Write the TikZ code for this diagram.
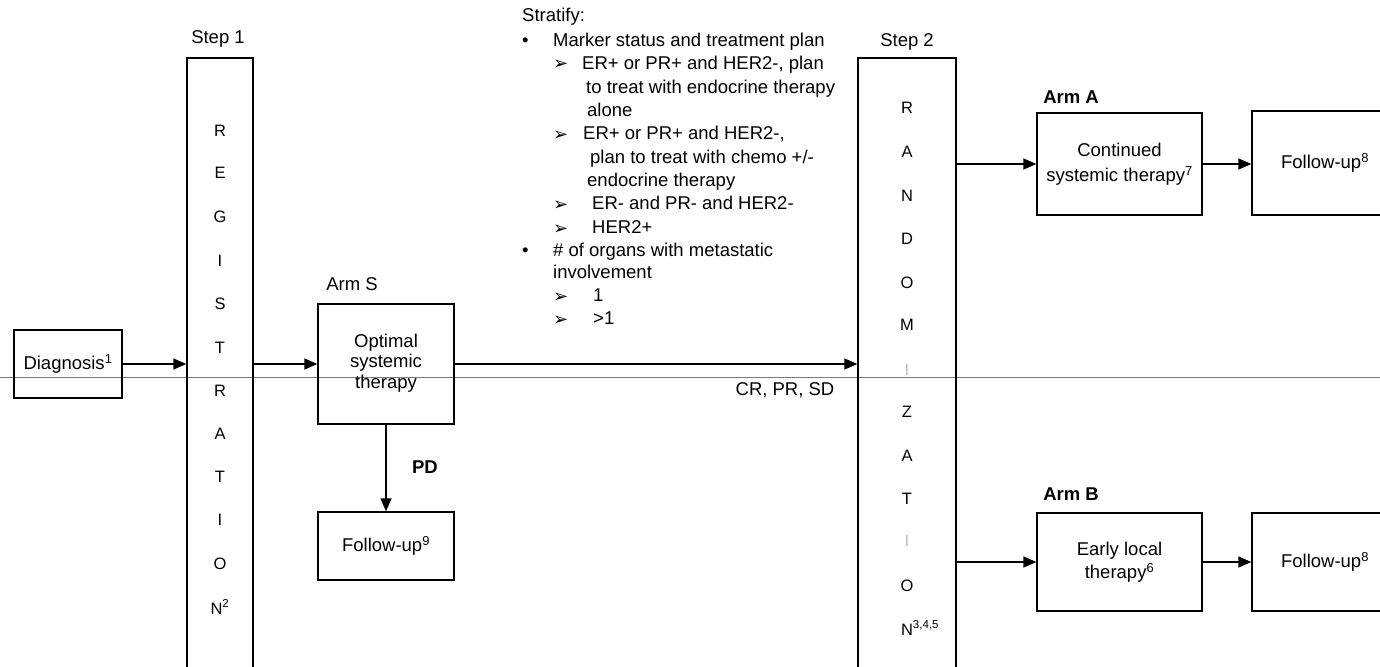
\documentclass[tikz,border=0pt]{standalone}
\usepackage{fontspec}
\setmainfont{Liberation Sans}
\newfontfamily\symfont{DejaVu Sans}
\usetikzlibrary{arrows.meta}
\definecolor{pagebreak}{RGB}{110,110,230}
\definecolor{lightI}{RGB}{190,190,190}
\begin{document}
\begin{tikzpicture}[x=1pt,y=-1pt,
  font=\fontsize{18.5}{23}\selectfont,
  box/.style={draw, line width=1.3pt, inner sep=0pt, align=center},
  arr/.style={line width=1.3pt, -{Triangle[length=13pt,width=11pt]}},
  lbl/.style={inner sep=0pt},
  ltr/.style={inner sep=0pt, font=\fontsize{16.5}{20}\selectfont},
  li/.style={inner sep=0pt, anchor=base west},
  arrowbullet/.style={inner sep=0pt, anchor=base west, font=\symfont\bfseries\fontsize{18}{20}\selectfont}
]
\useasboundingbox (0,0) rectangle (1380,666);
\clip (0,0) rectangle (1380,666);

% page-break line
\draw[pagebreak, line width=0.9pt] (0,377) -- (1380,377);

% boxes
\node[box, minimum width=108pt, minimum height=68pt] (diag) at (68,364) {Diagnosis\textsuperscript{1}};
\node[box, minimum width=66pt, minimum height=622pt] (reg) at (220,369) {};
\node[box, minimum width=136pt, minimum height=120pt] (armS) at (386,364) {};
\node[box, minimum width=136pt, minimum height=68pt] (fu9) at (386,546) {Follow-up\textsuperscript{9}};
\node[box, minimum width=98pt, minimum height=622pt] (rand) at (907,369) {};
\node[box, minimum width=165pt, minimum height=102pt, font=\fontsize{18.5}{25}\selectfont] (armA) at (1119.5,164) {Continued\\systemic therapy\textsuperscript{7}};
\node[box, minimum width=146pt, minimum height=104pt] (fuA) at (1325,163) {Follow-up\textsuperscript{8}};
\node[box, minimum width=165pt, minimum height=98pt, font=\fontsize{18.5}{23}\selectfont] (armB) at (1119.5,562) {Early local\\therapy\textsuperscript{6}};
\node[box, minimum width=146pt, minimum height=98pt] (fuB) at (1325,562) {Follow-up\textsuperscript{8}};

% text of Arm S box
\node[lbl, align=center, font=\fontsize{18.5}{20.5}\selectfont] (armStxt) at (386,363) {Optimal\\systemic\\therapy};

% labels
\node[lbl] (step1) at (218,39) {Step 1};
\node[lbl] (step2) at (907,42) {Step 2};
\node[lbl] (armSl) at (352,284) {Arm S};
\node[lbl, font=\bfseries\fontsize{18.5}{23}\selectfont] (armAl) at (1071,97) {Arm A};
\node[lbl, font=\bfseries\fontsize{18.5}{23}\selectfont] (armBl) at (1071,494) {Arm B};
\node[lbl, font=\bfseries\fontsize{18.5}{23}\selectfont] (pd) at (425,467) {PD};
\node[lbl] (crprsd) at (785,390) {CR, PR, SD};

% REGISTRATION letters
\node[ltr] (g1) at (220,131) {R};
\node[ltr] (g2) at (220,173) {E};
\node[ltr] (g3) at (220,217) {G};
\node[ltr] (g4) at (220,261) {I};
\node[ltr] (g5) at (220,304) {S};
\node[ltr] (g6) at (220,348) {T};
\node[ltr] (g7) at (220,391) {R};
\node[ltr] (g8) at (220,434) {A};
\node[ltr] (g9) at (220,477) {T};
\node[ltr] (g10) at (220,520) {I};
\node[ltr] (g11) at (220,564) {O};
\node[ltr] (g12) at (220,607) {N\textsuperscript{2}};

% RANDOMIZATION letters
\node[ltr] (n1) at (907,108) {R};
\node[ltr] (n2) at (907,152) {A};
\node[ltr] (n3) at (907,196) {N};
\node[ltr] (n4) at (907,239) {D};
\node[ltr] (n5) at (907,283) {O};
\node[ltr] (n6) at (907,325) {M};
\node[ltr, text=lightI] (n7) at (907,370) {I};
\node[ltr] (n8) at (907,412) {Z};
\node[ltr] (n9) at (907,456) {A};
\node[ltr] (n10) at (907,499) {T};
\node[ltr, text=lightI] (n11) at (907,541) {I};
\node[ltr] (n12) at (907,586) {O};
\node[ltr] (n13) at (907,628) {N\rlap{\textsuperscript{3,4,5}}};

% Stratify block
\node[li] (s1) at (522,21.5) {Stratify:};
\node[li] (b1) at (522,46.5) {\textbullet};
\node[li] (s2) at (553,46.5) {Marker status and treatment plan};
\node[arrowbullet] (m1) at (553,70) {➢};
\node[li] (s3) at (582,69.5) {ER+ or PR+ and HER2-, plan};
\node[li] (s4) at (586,93.5) {to treat with endocrine therapy};
\node[li] (s5) at (587,116.5) {alone};
\node[arrowbullet] (m2) at (553,140) {➢};
\node[li] (s6) at (583,139.5) {ER+ or PR+ and HER2-,};
\node[li] (s7) at (590,163.5) {plan to treat with chemo +/-};
\node[li] (s8) at (587,186.5) {endocrine therapy};
\node[arrowbullet] (m3) at (553,210) {➢};
\node[li] (s9) at (592,209.5) {ER- and PR- and HER2-};
\node[arrowbullet] (m4) at (553,234) {➢};
\node[li] (s10) at (592,233.5) {HER2+};
\node[li] (b2) at (522,256.5) {\textbullet};
\node[li] (s11) at (553,256.5) {\# of organs with metastatic};
\node[li] (s12) at (553,278.5) {involvement};
\node[arrowbullet] (m5) at (553,302) {➢};
\node[li] (s13) at (593,301.5) {1};
\node[arrowbullet] (m6) at (553,325) {➢};
\node[li] (s14) at (593,324.5) {>1};

% connectors
\draw[arr] (diag.east) -- (diag.east -| reg.west);
\draw[arr] (reg.east |- armS.west) -- (armS.west);
\draw[arr] (armS.east) -- (armS.east -| rand.west);
\draw[arr] (armS.south) -- (fu9.north);
\draw[arr] (rand.east |- armA.west) -- (armA.west);
\draw[arr] (armA.east) -- (armA.east -| fuA.west);
\draw[arr] (rand.east |- armB.west) -- (armB.west);
\draw[arr] (armB.east) -- (armB.east -| fuB.west);
\end{tikzpicture}
\end{document}
